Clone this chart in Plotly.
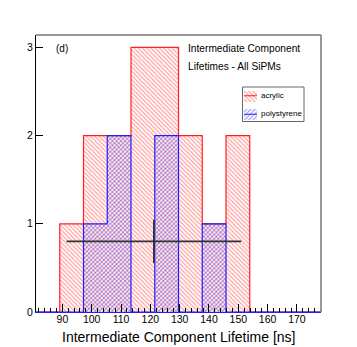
import plotly.graph_objects as go

# ---- data ----
bin_edges = [81.0, 89.1, 97.2, 105.3, 113.4, 121.5, 129.6, 137.7, 145.8, 153.9, 162.0, 170.1, 178.2]
acrylic_counts = [0, 1, 2, 2, 3, 3, 2, 1, 2, 0, 0, 0]
polystyrene_counts = [0, 0, 1, 2, 0, 2, 0, 1, 0, 0, 0, 0]
series_names = ["acrylic", "polystyrene"]
mean_x = [121.2]
mean_x_err = [29.8]
mean_y = [0.8]
mean_y_err = [0.245]
x_tick_vals = [90, 100, 110, 120, 130, 140, 150, 160, 170]
y_tick_vals = [0, 1, 2, 3]
x_title = "Intermediate Component Lifetime [ns]"
panel_label = "(d)"
title_lines = ["Intermediate Component", "Lifetimes - All SiPMs"]

OFF = 8  # page body margin in the browser
W, H = 357 - OFF, 347 - OFF
# plot area in page pixels: x 36..321, y 35..312
PL, PR, PT, PB = 36, 321, 35, 312
ML, MR, MT, MB = PL - OFF, W - (PR - OFF), PT - OFF, H - (PB - OFF)
RED = "#ff2020"
BLUE = "#2020ff"
RED_HATCH = "rgba(255,0,0,0.75)"
BLUE_HATCH = "rgba(0,0,255,0.75)"
FONT = "Liberation Sans, Arial, Helvetica, sans-serif"

centers = [(bin_edges[i] + bin_edges[i + 1]) / 2 for i in range(len(bin_edges) - 1)]
widths = [bin_edges[i + 1] - bin_edges[i] for i in range(len(bin_edges) - 1)]


def step_outline(edges, counts):
    xs, ys = [edges[0]], [0]
    for i, c in enumerate(counts):
        xs += [edges[i], edges[i + 1]]
        ys += [c, c]
    xs.append(edges[-1])
    ys.append(0)
    return xs, ys


fig = go.Figure()

hist_styles = [(acrylic_counts, RED, RED_HATCH, "\\"), (polystyrene_counts, BLUE, BLUE_HATCH, "/")]

for counts, col, hcol, shape in hist_styles:
    fig.add_trace(go.Bar(
        x=centers, y=counts, width=widths,
        marker=dict(color="rgba(0,0,0,0)", line=dict(width=0),
                    pattern=dict(shape=shape, fgcolor=hcol, bgcolor="rgba(0,0,0,0)",
                                 size=3, solidity=0.4)),
        showlegend=False, hoverinfo="skip",
    ))

for counts, col, hcol, shape in hist_styles:
    xs, ys = step_outline(bin_edges, counts)
    fig.add_trace(go.Scatter(x=xs, y=ys, mode="lines",
                             line=dict(color=col, width=1.2),
                             showlegend=False, hoverinfo="skip"))

fig.add_trace(go.Scatter(
    x=mean_x, y=mean_y, mode="markers",
    marker=dict(size=1, color="#333333"),
    error_x=dict(type="data", array=mean_x_err, width=0, thickness=1.8, color="#333333"),
    error_y=dict(type="data", array=mean_y_err, width=0, thickness=1.8, color="#333333"),
    showlegend=False, hoverinfo="skip",
))

pw = PR - PL
ph = PB - PT


def px_to_paper_x(px):
    return (px - PL) / pw


def px_to_paper_y(py):
    return (PB - py) / ph


# ---- legend swatches in a tiny auxiliary subplot ----
legend_pos = [1, 0]
for (counts, col, hcol, shape), ypos in zip(hist_styles, legend_pos):
    fig.add_trace(go.Bar(
        x=[1], y=[ypos], base=[0], orientation="h", width=0.6,
        marker=dict(color="rgba(0,0,0,0)", line=dict(width=0),
                    pattern=dict(shape=shape, fgcolor=hcol, bgcolor="rgba(0,0,0,0)",
                                 size=3, solidity=0.4)),
        xaxis="x2", yaxis="y2", showlegend=False, hoverinfo="skip",
    ))
    fig.add_trace(go.Scatter(x=[0, 1], y=[ypos, ypos], mode="lines",
                             line=dict(color=col, width=1),
                             xaxis="x2", yaxis="y2", showlegend=False, hoverinfo="skip"))

fig.update_layout(
    width=W, height=H,
    margin=dict(l=ML, r=MR, t=MT, b=MB, pad=0),
    paper_bgcolor="white", plot_bgcolor="white",
    barmode="overlay", bargap=0,
    font=dict(family=FONT, color="black", size=10.5),
    xaxis=dict(range=[bin_edges[0], bin_edges[-1]], tickvals=x_tick_vals,
               ticks="inside", ticklen=8, tickcolor="black", tickwidth=1,
               minor=dict(ticks="inside", dtick=2, ticklen=4, tickcolor="black", showgrid=False),
               showline=True, linecolor=BLUE, linewidth=1.2, ticklabelstandoff=-3,
               showgrid=False, zeroline=False, tickfont=dict(size=10.5)),
    yaxis=dict(range=[0, 3.14], tickvals=y_tick_vals,
               ticks="inside", ticklen=7, tickcolor="black",
               showline=True, linecolor="black", linewidth=1,
               showgrid=False, zeroline=False, tickfont=dict(size=10.5)),
    xaxis2=dict(domain=[px_to_paper_x(244), px_to_paper_x(257)], range=[0, 1],
                anchor="y2", visible=False, fixedrange=True),
    yaxis2=dict(domain=[px_to_paper_y(123.5), px_to_paper_y(86.5)], range=[-0.5, 1.5],
                anchor="x2", visible=False, fixedrange=True),
)

# frame (top and right)
fig.add_shape(type="line", xref="paper", yref="paper", x0=0, x1=1, y0=1, y1=1,
              line=dict(color="#777777", width=1.5))
fig.add_shape(type="line", xref="paper", yref="paper", x0=1, x1=1, y0=0, y1=1,
              line=dict(color="#777777", width=1.5))
# legend box
fig.add_shape(type="rect", xref="paper", yref="paper",
              x0=px_to_paper_x(242.5), x1=px_to_paper_x(304),
              y0=px_to_paper_y(121.5), y1=px_to_paper_y(87),
              line=dict(color="#666666", width=1), fillcolor="rgba(0,0,0,0)")

ann = []
ann.append(dict(text=x_title, xref="paper", yref="paper", x=0.5, y=0,
                xanchor="center", yanchor="top", yshift=-15, showarrow=False,
                font=dict(size=14)))
ann.append(dict(text=panel_label, xref="paper", yref="paper",
                x=px_to_paper_x(54), y=px_to_paper_y(48),
                xanchor="left", yanchor="middle", showarrow=False, font=dict(size=10)))
for txt, py in zip(title_lines, [48, 66]):
    ann.append(dict(text=txt, xref="paper", yref="paper",
                    x=px_to_paper_x(185.5), y=px_to_paper_y(py),
                    xanchor="left", yanchor="middle", showarrow=False, font=dict(size=10.2)))
for name, py in zip(series_names, [95.5, 114]):
    ann.append(dict(text=name, xref="paper", yref="paper",
                    x=px_to_paper_x(258.5), y=px_to_paper_y(py),
                    xanchor="left", yanchor="middle", showarrow=False, font=dict(size=8)))
fig.update_layout(annotations=ann)

fig.write_html("out.html")
